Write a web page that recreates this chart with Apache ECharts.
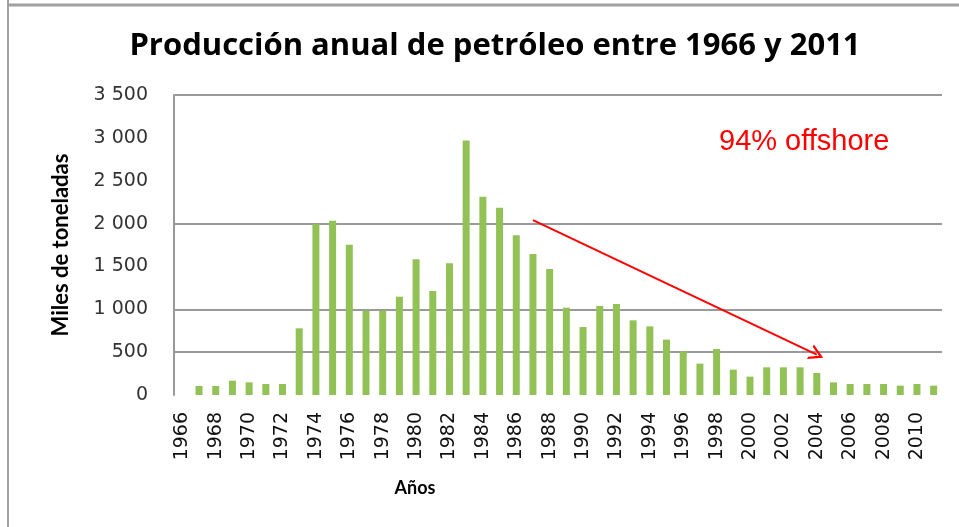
<!DOCTYPE html>
<html>
<head>
<meta charset="utf-8">
<script src="https://cdn.jsdelivr.net/npm/echarts@6/dist/echarts.min.js"></script>
<style>html,body{margin:0;padding:0;background:#fff}#c{width:959px;height:527px}</style>
</head>
<body>
<div id="c"></div>
<script>
const years = [];
for (let y = 1966; y <= 2011; y++) years.push(String(y));
const production = [
  0, 105, 105, 167, 148, 128, 128, 778, 1995, 2034,
  1754, 984, 984, 1147, 1583, 1213, 1536, 2968, 2314, 2186,
  1863, 1645, 1470, 1019, 793, 1039, 1062, 871, 801, 646,
  510, 366, 537, 296, 214, 323, 323, 323, 257, 148,
  128, 128, 128, 109, 128, 109
];
const yTicks = [0, 500, 1000, 1500, 2000, 2500, 3000, 3500];
const visibleGrid = [500, 1000, 2000, 3500];
const arrowFrom = ['1987', 2040];
const arrowTo = ['2004', 470];
const titleText = 'Producción anual de petróleo entre 1966 y 2011';
const noteText = '94% offshore';

const chart = echarts.init(document.getElementById('c'), null, {renderer: 'canvas'});
const gridColors = yTicks.map(v => visibleGrid.includes(v) ? '#9a9a9a' : 'rgba(0,0,0,0)');
chart.setOption({
  animation: false,
  backgroundColor: '#fff',
  title: {
    text: titleText,
    left: 490, top: 26, textAlign: 'center',
    textStyle: {fontFamily: 'Open Sans', fontWeight: 'bold', fontSize: 31, color: '#000'}
  },
  grid: {left: 174, right: 17, top: 95, bottom: 132},
  xAxis: {
    type: 'category',
    data: years,
    name: 'Años',
    nameLocation: 'middle',
    nameGap: 84,
    nameTextStyle: {fontFamily: 'Lato', fontWeight: 'bold', fontSize: 18, color: '#000', padding: [0, 286, 0, 0]},
    axisLine: {show: false},
    axisTick: {show: false},
    axisLabel: {interval: 1, rotate: 90, margin: 17, fontFamily: 'DejaVu Sans', fontSize: 19, color: '#111'}
  },
  yAxis: {
    type: 'value',
    min: 0, max: 3500, interval: 500,
    name: 'Miles de toneladas',
    nameLocation: 'middle',
    nameGap: 102,
    nameRotate: 90,
    nameTextStyle: {fontFamily: 'Lato', fontWeight: 'bold', fontSize: 22, color: '#000'},
    axisLine: {show: true, lineStyle: {color: '#9a9a9a', width: 2}},
    axisTick: {show: false},
    splitLine: {show: true, lineStyle: {color: gridColors, width: 2}},
    axisLabel: {
      margin: 26, fontFamily: 'DejaVu Sans', fontSize: 19, color: '#333',
      formatter: v => v >= 1000 ? String(v).replace(/(\d)(\d{3})$/, '$1 $2') : String(v)
    }
  },
  graphic: [
    {type: 'line', shape: {x1: 8, y1: 0, x2: 8, y2: 527}, style: {stroke: '#a0a0a0', lineWidth: 2}},
    {type: 'line', shape: {x1: 8, y1: 5, x2: 959, y2: 5}, style: {stroke: '#a0a0a0', lineWidth: 3}},
    {type: 'text', left: 719, top: 127, style: {text: noteText, fontFamily: 'Liberation Sans', fontSize: 29, fill: '#ff0000'}}
  ],
  series: [{
    type: 'bar',
    data: production,
    barWidth: 7,
    itemStyle: {color: '#92c255'},
    markLine: {
      silent: true,
      symbol: ['none', 'path://M5,0 L10,10 L8.4,10 L5,3.2 L1.6,10 L0,10 Z'],
      symbolSize: [16, 14],
      symbolOffset: [0, 0],
      label: {show: false},
      lineStyle: {color: '#ff0000', width: 2, type: 'solid'},
      data: [[{coord: arrowFrom}, {coord: arrowTo}]]
    }
  }]
});
</script>
</body>
</html>
